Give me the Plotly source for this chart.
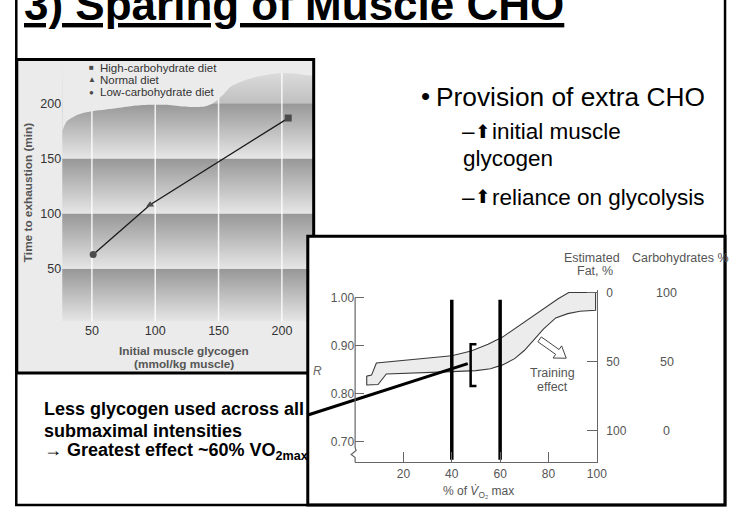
import numpy as np
import plotly.graph_objects as go

W, H = 738, 512
FONT = "Liberation Sans, Arial, sans-serif"

# ---------------- data: left chart ----------------
diet_names = ["High-carbohydrate diet", "Normal diet", "Low-carbohydrate diet"]
diet_symbols = ["square", "triangle-up", "circle"]
glycogen = [205, 96, 51]                 # initial muscle glycogen (mmol/kg muscle)
time_to_exhaustion = [186.5, 108, 63]    # time to exhaustion (min)
glyco_ticks = [50, 100, 150, 200]
time_ticks = [50, 100, 150, 200]

# decorative wavy top edge of the shaded background (x in glycogen units, y in minutes)
wave_x = [26.5, 30.1, 36, 43.0, 55, 69.0, 82, 94.9, 108, 120.8, 130, 139.0, 145, 149.3,
          154, 159.6, 170, 180.4, 190, 198.5, 210, 225.1]
wave_y = [174.6, 183.6, 188, 191.0, 193.5, 195.5, 197.5, 198.5, 198.5, 197.0, 196.5, 197.0,
          199.5, 203.0, 208, 215.0, 220.5, 224.0, 226, 227.0, 226.8, 225.4]

# ---------------- data: right chart ----------------
vo2_ticks = [20, 40, 60, 80, 100]
r_ticks = [0.70, 0.80, 0.90, 1.00]
fat_ticks = [0, 50, 100]
carb_labels = ["100", "50", "0"]
band_upper_x = [4.8, 6.8, 8.8, 20, 30, 40, 48, 55, 61, 68, 76, 84, 88.4, 99.5]
band_upper_r = [0.8366, 0.8387, 0.864, 0.869, 0.873, 0.879, 0.889, 0.903, 0.918, 0.942,
                0.971, 0.998, 1.011, 1.011]
band_lower_x = [4.8, 9.5, 12.9, 25, 40, 50, 56, 61, 66, 70, 74, 78, 83, 88, 93, 99.5]
band_lower_r = [0.818, 0.819, 0.841, 0.843, 0.846, 0.848, 0.852, 0.860, 0.873, 0.890,
                0.912, 0.935, 0.958, 0.967, 0.972, 0.974]
intensity_marks = [40, 60]
intensity_r = [0.662, 0.996]
bracket_x = [50.2, 47.8, 47.8, 50.2]
bracket_r = [0.903, 0.903, 0.816, 0.816]
trend_x = [-19.2, 46.6]
trend_r = [0.756, 0.8625]

# ---------------- geometry (pixels) ----------------
def px(x):
    return x / W

def py(y):
    return 1 - y / H

L_XR = [26.5, 225.1]
L_YR = [2.3, 238.6]
R_YR = [0.6565, 1.0168]
FAT_R = [123.0, -2.16]
R_PIX = (360, 605, 288, 462)   # x0, x1, ytop, ybottom of right plot


def to_right(pxx, pyy):
    x0, x1, yt, yb = R_PIX
    return ((pxx - x0) / (x1 - x0) * 100,
            R_YR[0] + (yb - pyy) / (yb - yt) * (R_YR[1] - R_YR[0]))


fig = go.Figure()

# ---- left chart background bands (gradient) ----
edges = [L_YR[0]] + time_ticks + [L_YR[1]]
for i in range(len(edges) - 1):
    lo, hi = edges[i], edges[i + 1]
    cs = [[0, "#e6e6e6"], [1, "#979797"]] if i < len(edges) - 2 else [[0, "#c0c0c0"], [1, "#e6e6e6"]]
    fig.add_trace(go.Scatter(
        x=[L_XR[0], L_XR[1], L_XR[1], L_XR[0], L_XR[0]], y=[lo, lo, hi, hi, lo],
        mode="lines", fill="toself", line=dict(width=0),
        fillgradient=dict(type="vertical", colorscale=cs),
        hoverinfo="skip", showlegend=False, xaxis="x", yaxis="y"))

for g in glyco_ticks:
    fig.add_trace(go.Scatter(x=[g, g], y=L_YR, mode="lines",
                             line=dict(color="rgba(255,255,255,0.85)", width=1.5),
                             hoverinfo="skip", showlegend=False, xaxis="x", yaxis="y"))

# mask above the wavy edge
fig.add_trace(go.Scatter(
    x=wave_x + [L_XR[1], L_XR[0]], y=wave_y + [L_YR[1], L_YR[1]],
    mode="lines", fill="toself", fillcolor="#ebebeb", line=dict(width=0, shape="spline", smoothing=0.6),
    hoverinfo="skip", showlegend=False, xaxis="x", yaxis="y"))

# data line + markers
order = np.argsort(glycogen)
fig.add_trace(go.Scatter(x=[glycogen[i] for i in order], y=[time_to_exhaustion[i] for i in order],
                         mode="lines", line=dict(color="#1a1a1a", width=1.3),
                         showlegend=False, xaxis="x", yaxis="y"))
for name, sym, gx, gy in zip(diet_names, diet_symbols, glycogen, time_to_exhaustion):
    fig.add_trace(go.Scatter(x=[gx], y=[gy], mode="markers", name=name,
                             marker=dict(symbol=sym, size=7, color="#4a4a4a"),
                             showlegend=False, xaxis="x", yaxis="y"))

# ---- right chart ----
band_x = band_upper_x + band_lower_x[::-1] + [band_upper_x[0]]
band_y = band_upper_r + band_lower_r[::-1] + [band_upper_r[0]]
fig.add_trace(go.Scatter(x=band_x, y=band_y, mode="lines", fill="toself", fillcolor="#ececec",
                         line=dict(color="#3a3a3a", width=1.1), hoverinfo="skip",
                         showlegend=False, xaxis="x2", yaxis="y2"))
for m in intensity_marks:
    fig.add_trace(go.Scatter(x=[m, m], y=intensity_r, mode="lines",
                             line=dict(color="black", width=3.5), showlegend=False,
                             xaxis="x2", yaxis="y2"))
fig.add_trace(go.Scatter(x=bracket_x, y=bracket_r, mode="lines",
                         line=dict(color="black", width=2.5), showlegend=False,
                         xaxis="x2", yaxis="y2"))
fig.add_trace(go.Scatter(x=trend_x, y=trend_r, mode="lines",
                         line=dict(color="black", width=3), showlegend=False,
                         xaxis="x3", yaxis="y2"))
# keeps the fat-% axis attached to a subplot
fig.add_trace(go.Scatter(x=[None], y=[None], mode="lines", showlegend=False,
                         hoverinfo="skip", xaxis="x2", yaxis="y3"))

# ---- shapes ----
shapes = []
shapes.append(dict(type="rect", xref="paper", yref="paper", x0=px(17), x1=px(318), y0=py(372), y1=py(56),
                   fillcolor="#ebebeb", line=dict(width=0), layer="below"))
shapes.append(dict(type="rect", xref="paper", yref="paper", x0=px(312), x1=px(735), y0=py(505), y1=py(234),
                   fillcolor="white", line=dict(width=0), layer="below"))
shapes.append(dict(type="rect", xref="paper", yref="paper", x0=px(313.5), x1=px(320), y0=py(322), y1=py(235.5),
                   fillcolor="white", line=dict(width=0), layer="above"))


def ppath(pts, close=False):
    s = "M " + " L ".join(f"{px(a):.5f},{py(b):.5f}" for a, b in pts)
    return s + (" Z" if close else "")


shapes.append(dict(type="path", xref="paper", yref="paper", path=ppath([(16.5, -5), (16.5, 505), (735, 505), (735, -5)]),
                   line=dict(color="black", width=2.5), layer="above"))
shapes.append(dict(type="path", xref="paper", yref="paper", path=ppath([(17, 372), (17, 56), (318, 56), (318, 234)]),
                   line=dict(color="black", width=3), layer="above"))
shapes.append(dict(type="path", xref="paper", yref="paper", path=ppath([(17, 372), (312, 372)]),
                   line=dict(color="black", width=3), layer="above"))
shapes.append(dict(type="rect", xref="paper", yref="paper", x0=px(312), x1=px(735), y0=py(505), y1=py(234),
                   line=dict(color="black", width=3), layer="above"))
# left axis of right chart with break
shapes.append(dict(type="path", xref="paper", yref="paper",
                   path=ppath([(360, 462), (360, 457), (356, 454), (361, 450), (360, 447), (360, 296)]),
                   line=dict(color="#666", width=1.2), layer="above"))
# training effect hollow arrow
tail = np.array([547.0, 338.0])
tip = np.array([574.0, 357.0])
u = (tip - tail) / np.linalg.norm(tip - tail)
n = np.array([-u[1], u[0]])
neck = tip - u * 11
pts = [tail + n * 3, neck + n * 3, neck + n * 7.5, tip, neck - n * 7.5, neck - n * 3, tail - n * 3]
dp = [to_right(p[0], p[1]) for p in pts]
shapes.append(dict(type="path", xref="x2", yref="y2",
                   path="M " + " L ".join(f"{a:.4f},{b:.5f}" for a, b in dp) + " Z",
                   fillcolor="white", line=dict(color="#444", width=1)))

# ---- annotations ----
ann = []


def txt(x, y, text, size, color="black", xanchor="left", angle=0, family=FONT, yref="paper", yval=None):
    ann.append(dict(x=px(x), y=py(y) if yval is None else yval, xref="paper", yref=yref, text=text,
                    showarrow=False, xanchor=xanchor, yanchor="middle", textangle=angle,
                    font=dict(family=family, size=size, color=color)))


txt(22, 1, "<b><u>3) Sparing of Muscle CHO</u></b>", 44)
txt(425, 93, "•", 26)
txt(440, 94, "Provision of extra CHO", 26.3)
txt(466, 129, "–", 22.5)
txt(479, 128, "⬆", 18.5, family="DejaVu Sans")
txt(497, 129, "initial muscle", 22.5)
txt(467, 156, "glycogen", 22.5)
txt(466, 195, "–", 22.5)
txt(479, 194, "⬆", 18.5, family="DejaVu Sans")
txt(497, 195, "reliance on glycolysis", 22.5)

txt(43, 408, "<b>Less glycogen used across all</b>", 18)
txt(43, 430, "<b>submaximal intensities</b>", 18)
txt(43, 451, "<b>→ Greatest effect ~60% VO<sub>2max</sub></b>", 18)

# left chart legend & titles
legend_rows = [64, 76.5, 89]
legend_marks = ["■", "▲", "●"]
for name, mark, yy in zip(diet_names, legend_marks, legend_rows):
    txt(93, yy, mark, 8, "#4a4a4a", xanchor="center")
    txt(99, yy, name, 11.5, "#333")
txt(28, 190, "<b>Time to exhaustion (min)</b>", 11.8, "#555", xanchor="center", angle=-90)
txt(187, 350, "<b>Initial muscle glycogen</b>", 11.8, "#555", xanchor="center")
txt(187, 363, "<b>(mmol/kg muscle)</b>", 11.8, "#555", xanchor="center")

# right chart labels
txt(600, 256, "Estimated", 12.5, "#555", xanchor="center")
txt(603, 269, "Fat, %", 12.5, "#555", xanchor="center")
txt(639, 256, "Carbohydrates %", 12.5, "#555")
for lab, fv in zip(carb_labels, fat_ticks):
    txt(676, 0, lab, 12.5, "#555", xanchor="center", yref="y3", yval=fv)
txt(560, 372, "Training", 12.5, "#555", xanchor="center")
txt(560, 386, "effect", 12.5, "#555", xanchor="center")
txt(315, 370, "<i>R</i>", 12, "#666")
txt(485, 492, "% of <i>V̇</i><sub>O₂</sub> max", 12, "#555", xanchor="center")

axis_common = dict(showgrid=False, zeroline=False)
fig.update_layout(
    width=W, height=H, margin=dict(l=0, r=0, t=0, b=0),
    paper_bgcolor="white", plot_bgcolor="rgba(0,0,0,0)",
    showlegend=False, font=dict(family=FONT),
    xaxis=dict(domain=[px(63), px(318)], range=L_XR, anchor="y", tickvals=glyco_ticks,
               ticks="", showline=False, tickfont=dict(size=12.5, color="#333"), **axis_common),
    yaxis=dict(domain=[py(320), py(57)], range=L_YR, anchor="x", tickvals=time_ticks,
               ticks="", showline=False, tickfont=dict(size=12.5, color="#333"), **axis_common),
    xaxis2=dict(domain=[px(360), px(605)], range=[0, 100], anchor="y2", tickvals=vo2_ticks,
                ticks="inside", ticklen=10, tickcolor="#666", tickwidth=1.2,
                showline=True, linecolor="#666", linewidth=1.2,
                tickfont=dict(size=12, color="#555"), **axis_common),
    yaxis2=dict(domain=[py(462), py(288)], range=R_YR, anchor="x2", tickvals=r_ticks,
                ticktext=[f"{v:.2f}" for v in r_ticks], ticks="inside", ticklen=9,
                tickcolor="#666", tickwidth=1.2, showline=False,
                tickfont=dict(size=12, color="#555"), **axis_common),
    yaxis3=dict(overlaying="y2", side="right", anchor="x2", range=FAT_R, tickvals=fat_ticks,
                ticks="inside", ticklen=10, tickcolor="#666", tickwidth=1.2,
                showline=True, linecolor="#666", linewidth=1.2, ticklabelstandoff=6,
                tickfont=dict(size=12, color="#555"), **axis_common),
    xaxis3=dict(domain=[px(313), px(605)], range=[-19.18, 100], anchor="y2", visible=False),
    shapes=shapes, annotations=ann,
)

fig.write_html("out.html", config={"displayModeBar": False},
               post_script="document.body.style.margin='0';document.body.style.overflow='hidden';")
